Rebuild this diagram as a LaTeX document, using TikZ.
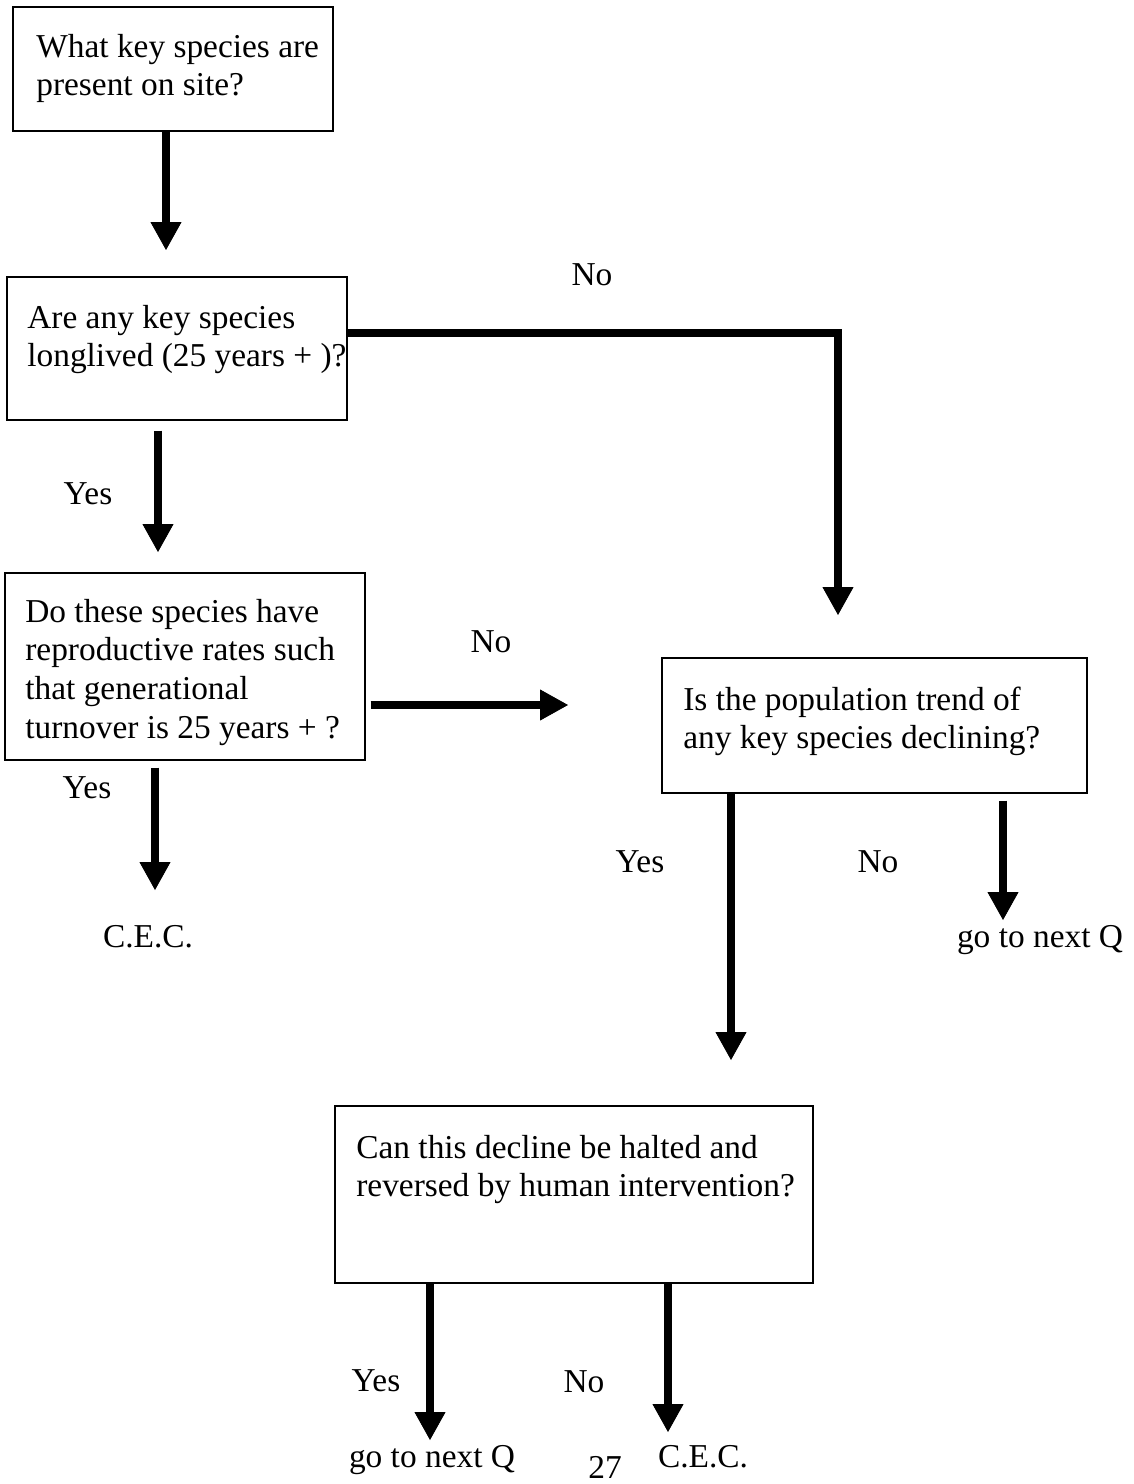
\documentclass[tikz,border=0pt]{standalone}
\usepackage{fontspec}
\setmainfont{Liberation Serif}
\usetikzlibrary{arrows.meta}
\newcommand\flowfont{\fontsize{19pt}{22.1pt}\selectfont}

\begin{document}
\begin{tikzpicture}[x=0.02cm,y=-0.02cm,
  qbox/.style={draw,line width=0.8pt,inner sep=0pt},
  qtext/.style={anchor=base west,align=left,text width=9.5cm,inner sep=0pt,font=\flowfont,
    execute at begin node={\spaceskip=0.25em\relax}},
  lbl/.style={anchor=base,inner sep=0pt,font=\flowfont},
  flow/.style={line width=5pt,line join=miter,-{Triangle[length=0.56cm,width=0.62cm,line width=0.5pt]}}]
  \useasboundingbox (0,0) rectangle (1133,1484);
  \path (173,69) node[qbox,minimum width=6.4cm,minimum height=2.48cm] (q1) {}
  (177,348.5) node[qbox,minimum width=6.8cm,minimum height=2.86cm] (q2) {}
  (185,666.5) node[qbox,minimum width=7.2cm,minimum height=3.74cm] (q3) {}
  (874.5,725.5) node[qbox,minimum width=8.5cm,minimum height=2.7cm] (q4) {}
  (574,1194.5) node[qbox,minimum width=9.56cm,minimum height=3.54cm] (q5) {};
  \node[qtext] (t1) at (36,57) {What key species are\\present on site?};
  \node[qtext] (t2) at (27,328) {Are any key species\\longlived (25 years + )?};
  \node[qtext] (t3) at (25,622) {Do these species have\\reproductive rates such\\that generational\\turnover is 25 years + ?};
  \node[qtext] (t4) at (683,710) {Is the population trend of\\any key species declining?};
  \node[qtext] (t5) at (356,1158) {Can this decline be halted and\\reversed by human intervention?};
  \node[lbl] (no1) at (592,285) {No};
  \node[lbl] (yes1) at (88,504) {Yes};
  \node[lbl] (no2) at (491,652) {No};
  \node[lbl] (yes2) at (87,798) {Yes};
  \node[lbl] (cec1) at (148,947) {C.E.C.};
  \node[lbl] (yes3) at (640,872) {Yes};
  \node[lbl] (no3) at (878,872) {No};
  \node[lbl] (next1) at (1040,947) {go to next Q};
  \node[lbl] (yes4) at (376,1391) {Yes};
  \node[lbl] (no4) at (584,1392) {No};
  \node[lbl] (next2) at (432,1467) {go to next Q};
  \node[lbl] (cec2) at (703,1467) {C.E.C.};
  \node[lbl] (page) at (605,1478) {27};
  \coordinate (a1) at (166,250);
  \coordinate (c2) at (838,333);
  \coordinate (a2) at (838,615);
  \coordinate (a3) at (158,552);
  \coordinate (a4) at (568,705);
  \coordinate (a5) at (155,890);
  \coordinate (a6) at (731,1060);
  \coordinate (a7) at (1003,920);
  \coordinate (a8) at (430,1440);
  \coordinate (a9) at (668,1432);
  \draw[flow] (q1.south -| a1) -- (a1);
  \draw[flow] (q2.east |- c2) -- (c2) -- (a2);
  \draw[flow,shorten <=0.2cm] (q2.south -| a3) -- (a3);
  \draw[flow,shorten <=0.1cm] (q3.east |- a4) -- (a4);
  \draw[flow,shorten <=0.14cm] (q3.south -| a5) -- (a5);
  \draw[flow] (q4.south -| a6) -- (a6);
  \draw[flow,shorten <=0.14cm] (q4.south -| a7) -- (a7);
  \draw[flow] (q5.south -| a8) -- (a8);
  \draw[flow] (q5.south -| a9) -- (a9);
\end{tikzpicture}
\end{document}
